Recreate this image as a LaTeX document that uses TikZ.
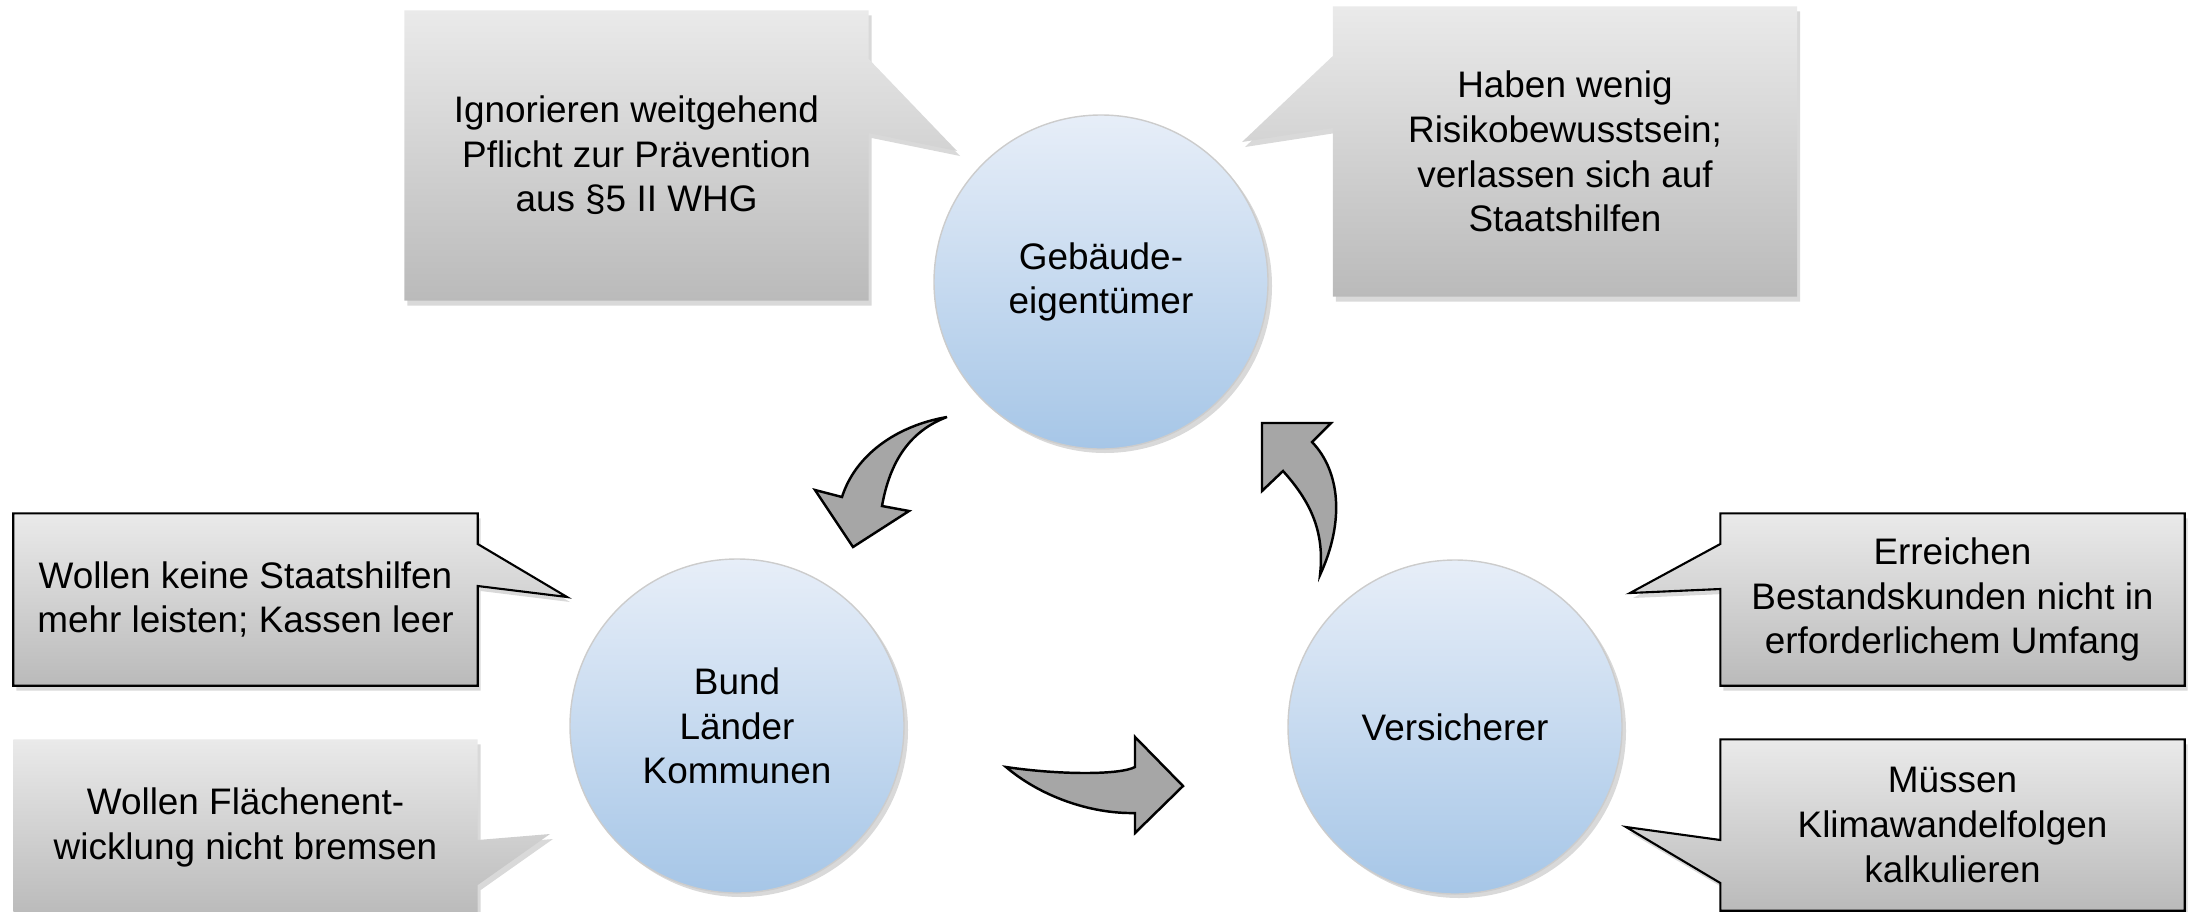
\documentclass[tikz,border=0pt]{standalone}
\usepackage{fontspec}
\setmainfont{Liberation Sans}
\usetikzlibrary{positioning,backgrounds,shadows}

\definecolor{kreisoben}{RGB}{231,238,248}
\definecolor{kreisunten}{RGB}{166,198,231}
\definecolor{boxoben}{RGB}{234,234,234}
\definecolor{boxunten}{RGB}{186,186,186}
\definecolor{pfeilgrau}{RGB}{166,166,166}

\begin{document}
\begin{tikzpicture}[
	akteur/.style={circle, minimum size=3.34cm, inner sep=0pt, align=center, draw=black!20, thin, top color=kreisoben, bottom color=kreisunten, drop shadow={shadow xshift=0.04cm, shadow yshift=-0.04cm, opacity=0.3}, font=\fontsize{10.5}{12.7}\selectfont},
	notiz/.style={rectangle, minimum width=4.63cm, inner sep=0pt, align=center, font=\fontsize{10.5}{12.7}\selectfont},
	blase/.style={top color=boxoben, bottom color=boxunten, drop shadow={shadow xshift=0.03cm, shadow yshift=-0.05cm, opacity=0.3}},
	rand/.style={draw=black, line width=0.6pt},
	kreispfeil/.style={fill=pfeilgrau, draw=black, line width=0.7pt, line join=miter}
]
\useasboundingbox (0,0) rectangle (21.88,9.11);

% Akteure
\node (geb) [akteur] at (11.01,6.29) {Gebäude-\\eigentümer};
\node (bund) [akteur] at (7.37,1.85) {Bund\\Länder\\Kommunen};
\node (vers) [akteur] at (14.55,1.84) {Versicherer};

% Sprechblasen
\node (pflicht) [notiz, minimum height=2.89cm] at (6.365,7.555) {Ignorieren weitgehend\\Pflicht zur Prävention\\aus §5 II WHG};
\node (risiko) [notiz, minimum height=2.89cm] at (15.65,7.595) {Haben wenig\\Risikobewusstsein;\\verlassen sich auf\\Staatshilfen};
\node (kassen) [notiz, minimum height=1.71cm] at (2.455,3.115) {Wollen keine Staatshilfen\\mehr leisten; Kassen leer};
\node (flaeche) [notiz, minimum height=1.75cm] at (2.455,0.835) {Wollen Flächenent-\\wicklung nicht bremsen};
\node (bestand) [notiz, minimum height=1.71cm] at (19.525,3.115) {Erreichen\\Bestandskunden nicht in\\erforderlichem Umfang};
\node (klima) [notiz, minimum height=1.70cm] at (19.525,0.86) {Müssen\\Klimawandelfolgen\\kalkulieren};

\coordinate (pflicht-spitze) at (9.57,7.60);
\coordinate (risiko-spitze) at (12.42,7.69);
\coordinate (kassen-spitze) at (5.67,3.14);
\coordinate (flaeche-spitze) at (5.50,0.77);
\coordinate (bestand-spitze) at (16.30,3.18);
\coordinate (klima-spitze) at (16.26,0.84);

\begin{scope}[on background layer]
\path[blase] (pflicht.north west) -- (pflicht.north east) -- (pflicht.east |- 0,8.52) -- (pflicht-spitze) -- (pflicht.east |- 0,7.78) -- (pflicht.south east) -- (pflicht.south west) -- cycle;
\path[blase] (risiko.north east) -- (risiko.north west) -- (risiko.west |- 0,8.55) -- (risiko-spitze) -- (risiko.west |- 0,7.83) -- (risiko.south west) -- (risiko.south east) -- cycle;
\path[blase, rand] (kassen.north west) -- (kassen.north east) -- (kassen.east |- 0,3.67) -- (kassen-spitze) -- (kassen.east |- 0,3.25) -- (kassen.south east) -- (kassen.south west) -- cycle;
\path[blase] (flaeche.north west) -- (flaeche.north east) -- (flaeche.east |- 0,0.71) -- (flaeche-spitze) -- (flaeche.east |- 0,0.26) -- (flaeche.south east) -- (flaeche.south west) -- cycle;
\path[blase, rand] (bestand.north east) -- (bestand.north west) -- (bestand.west |- 0,3.67) -- (bestand-spitze) -- (bestand.west |- 0,3.22) -- (bestand.south west) -- (bestand.south east) -- cycle;
\path[blase, rand] (klima.north east) -- (klima.north west) -- (klima.west |- 0,0.71) -- (klima-spitze) -- (klima.west |- 0,0.28) -- (klima.south west) -- (klima.south east) -- cycle;
\end{scope}

% Kreislaufpfeile
\path[kreispfeil] (9.47,4.94) .. controls (8.95,4.85) and (8.55,4.55) .. (8.42,4.14) -- (8.15,4.21) -- (8.53,3.64) -- (9.09,4.00) -- (8.82,4.05) .. controls (8.90,4.50) and (9.10,4.80) .. cycle;
\path[kreispfeil] (10.06,1.44) .. controls (10.60,1.36) and (11.20,1.36) .. (11.35,1.44) -- (11.35,1.74) -- (11.83,1.25) -- (11.35,0.78) -- (11.35,0.98) .. controls (10.90,0.97) and (10.40,1.15) .. cycle;
\path[kreispfeil] (13.20,3.36) .. controls (13.45,3.90) and (13.40,4.40) .. (13.12,4.69) -- (13.31,4.88) -- (12.62,4.88) -- (12.62,4.20) -- (12.83,4.40) .. controls (13.10,4.10) and (13.25,3.80) .. cycle;
\end{tikzpicture}
\end{document}
